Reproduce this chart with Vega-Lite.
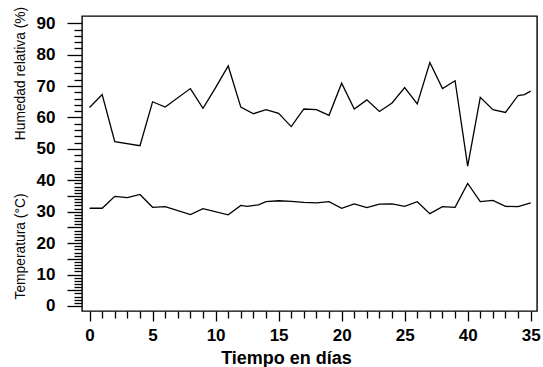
{
  "$schema": "https://vega.github.io/schema/vega-lite/v6.json",
  "autosize": "none",
  "width": 455,
  "height": 295,
  "padding": {"left": 82, "top": 16, "right": 6, "bottom": 56},
  "background": "white",
  "config": {
    "view": {"stroke": "black", "strokeWidth": 1.4},
    "font": "Liberation Sans",
    "axis": {
      "domain": false,
      "grid": false,
      "tickColor": "black",
      "tickWidth": 1.3,
      "labelColor": "black",
      "labelFont": "Liberation Sans",
      "labelFontWeight": "bold",
      "labelFontSize": 17,
      "titleColor": "black",
      "titleFont": "Liberation Sans"
    }
  },
  "datasets": {
    "humedad": [
      {"dia": 0, "valor": 63.2}, {"dia": 1, "valor": 67.3}, {"dia": 2, "valor": 52.3},
      {"dia": 4, "valor": 51.0}, {"dia": 5, "valor": 65.0}, {"dia": 6, "valor": 63.3},
      {"dia": 8, "valor": 69.2}, {"dia": 9, "valor": 62.9}, {"dia": 10, "valor": 69.5},
      {"dia": 11, "valor": 76.4}, {"dia": 12, "valor": 63.3}, {"dia": 13, "valor": 61.2},
      {"dia": 14, "valor": 62.5}, {"dia": 15, "valor": 61.3}, {"dia": 16, "valor": 57.1},
      {"dia": 17, "valor": 62.7}, {"dia": 18, "valor": 62.5}, {"dia": 19, "valor": 60.7},
      {"dia": 20, "valor": 70.9}, {"dia": 21, "valor": 62.7}, {"dia": 22, "valor": 65.6},
      {"dia": 23, "valor": 61.9}, {"dia": 24, "valor": 64.6}, {"dia": 25, "valor": 69.5},
      {"dia": 26, "valor": 64.3}, {"dia": 27, "valor": 77.5}, {"dia": 28, "valor": 69.2},
      {"dia": 29, "valor": 71.7}, {"dia": 30, "valor": 44.5}, {"dia": 31, "valor": 66.4},
      {"dia": 32, "valor": 62.5}, {"dia": 33, "valor": 61.6}, {"dia": 34, "valor": 67.0},
      {"dia": 34.5, "valor": 67.3}, {"dia": 35, "valor": 68.4}
    ],
    "temperatura": [
      {"dia": 0, "valor": 31.1}, {"dia": 1, "valor": 31.1}, {"dia": 2, "valor": 34.9},
      {"dia": 3, "valor": 34.5}, {"dia": 4, "valor": 35.5}, {"dia": 5, "valor": 31.4},
      {"dia": 6, "valor": 31.6}, {"dia": 8, "valor": 29.1}, {"dia": 9, "valor": 31.0},
      {"dia": 11, "valor": 29.0}, {"dia": 12, "valor": 32.0}, {"dia": 12.5, "valor": 31.7},
      {"dia": 13.4, "valor": 32.2}, {"dia": 14, "valor": 33.2}, {"dia": 15, "valor": 33.5},
      {"dia": 16, "valor": 33.3}, {"dia": 17, "valor": 33.0}, {"dia": 18, "valor": 32.8},
      {"dia": 19, "valor": 33.2}, {"dia": 20, "valor": 31.1}, {"dia": 21, "valor": 32.5},
      {"dia": 22, "valor": 31.3}, {"dia": 23, "valor": 32.4}, {"dia": 24, "valor": 32.5},
      {"dia": 25, "valor": 31.7}, {"dia": 26, "valor": 33.2}, {"dia": 27, "valor": 29.4},
      {"dia": 28, "valor": 31.6}, {"dia": 29, "valor": 31.4}, {"dia": 30, "valor": 39.0},
      {"dia": 31, "valor": 33.2}, {"dia": 32, "valor": 33.6}, {"dia": 33, "valor": 31.7},
      {"dia": 34, "valor": 31.6}, {"dia": 35, "valor": 32.8}
    ]
  },
  "encoding": {
    "x": {
      "field": "dia", "type": "quantitative",
      "scale": {"domain": [-0.6, 35.5], "nice": false, "zero": false},
      "axis": {
        "values": [0,1,2,3,4,5,6,7,8,9,10,11,12,13,14,15,16,17,18,19,20,21,22,23,24,25,26,27,28,29,30,31,32,33,34,35],
        "labelExpr": "datum.value % 5 === 0 ? (datum.value === 30 ? '40' : datum.label) : ''",
        "tickSize": {"condition": {"test": "datum.value % 5 === 0", "value": 10}, "value": 7},
        "labelPadding": 6,
        "labelFlush": false,
        "labelOverlap": false,
        "title": "Tiempo en días",
        "titleFontSize": 18,
        "titleFontWeight": "bold",
        "titleAlign": "center",
        "titleBaseline": "alphabetic",
        "titleX": 204,
        "titleY": 52
      }
    }
  },
  "layer": [
    {
      "data": {"name": "humedad"},
      "mark": {"type": "line", "color": "black", "strokeWidth": 1.3},
      "encoding": {
        "y": {
          "field": "valor", "type": "quantitative",
          "scale": {"domain": [-1.6, 92.3], "nice": false, "zero": false},
          "axis": {
            "orient": "left",
            "values": [0,1,2,3,4,5,6,7,8,9,10,11,12,13,14,15,16,17,18,19,20,21,22,23,24,25,26,27,28,29,30,31,32,33,34,35,36,37,38,39,40,41,42,43,44,46,48,50,52,54,56,58,60,62,64,66,68,70,72,74,76,78,80,82,84,86,88,90],
            "labelExpr": "datum.value % 10 === 0 ? datum.label : ''",
            "tickSize": {"condition": {"test": "(datum.value <= 40 && datum.value % 5 === 0) || datum.value % 10 === 0", "value": 15}, "value": 8},
            "labelPadding": 12,
            "labelOverlap": false,
            "labelFlush": false,
            "title": "Humedad relativa (%)",
            "titleFontSize": 13.8,
            "titleFontWeight": "normal",
            "titleAngle": 270,
            "titleAlign": "center",
            "titleBaseline": "middle",
            "titleX": -62,
            "titleY": 57
          }
        }
      }
    },
    {
      "data": {"name": "temperatura"},
      "mark": {"type": "line", "color": "black", "strokeWidth": 1.3},
      "encoding": {
        "y": {
          "field": "valor", "type": "quantitative",
          "axis": {
            "orient": "left",
            "domain": false, "ticks": false, "labels": false,
            "title": "Temperatura (°C)",
            "titleFontSize": 13.8,
            "titleFontWeight": "normal",
            "titleAngle": 270,
            "titleAlign": "center",
            "titleBaseline": "middle",
            "titleX": -62,
            "titleY": 230
          }
        }
      }
    }
  ],
  "resolve": {"scale": {"y": "shared", "x": "shared"}, "axis": {"y": "independent"}}
}
